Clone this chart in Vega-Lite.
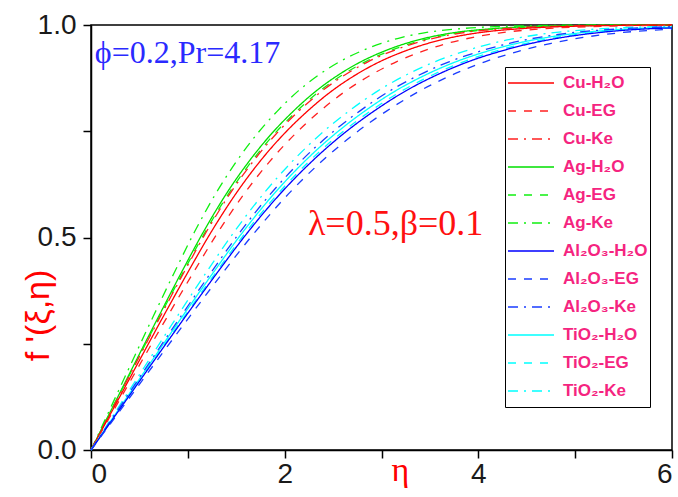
{
  "$schema": "https://vega.github.io/schema/vega-lite/v6.json",
  "width": 581,
  "height": 425,
  "autosize": "none",
  "padding": {"left": 91, "top": 25, "right": 6, "bottom": 47},
  "background": "white",
  "config": {
    "view": {"stroke": "black", "strokeWidth": 1.5},
    "axis": {"domainColor": "black", "domainWidth": 1.5, "tickColor": "black", "tickWidth": 1.5, "grid": false, "labelFont": "Liberation Sans", "labelFontSize": 28, "labelColor": "#1a1a1a"}
  },
  "layer": [
    {
      "data": {"values": [
        {"s":"Ag-Ke","x":0,"y":0},{"s":"Ag-Ke","x":0.214,"y":0.105},{"s":"Ag-Ke","x":0.428,"y":0.21},{"s":"Ag-Ke","x":0.642,"y":0.314},{"s":"Ag-Ke","x":0.857,"y":0.416},{"s":"Ag-Ke","x":1.071,"y":0.514},{"s":"Ag-Ke","x":1.285,"y":0.602},{"s":"Ag-Ke","x":1.499,"y":0.678},{"s":"Ag-Ke","x":1.713,"y":0.743},{"s":"Ag-Ke","x":1.927,"y":0.798},{"s":"Ag-Ke","x":2.141,"y":0.845},{"s":"Ag-Ke","x":2.355,"y":0.883},{"s":"Ag-Ke","x":2.57,"y":0.914},{"s":"Ag-Ke","x":2.784,"y":0.938},{"s":"Ag-Ke","x":2.998,"y":0.957},{"s":"Ag-Ke","x":3.212,"y":0.971},{"s":"Ag-Ke","x":3.426,"y":0.981},{"s":"Ag-Ke","x":3.854,"y":0.992},{"s":"Ag-Ke","x":4.283,"y":0.997},{"s":"Ag-Ke","x":4.711,"y":0.999},{"s":"Ag-Ke","x":5.353,"y":1.0},{"s":"Ag-Ke","x":6,"y":1.0},
        {"s":"Ag-H₂O","x":0,"y":0},{"s":"Ag-H₂O","x":0.233,"y":0.105},{"s":"Ag-H₂O","x":0.465,"y":0.21},{"s":"Ag-H₂O","x":0.698,"y":0.314},{"s":"Ag-H₂O","x":0.93,"y":0.416},{"s":"Ag-H₂O","x":1.163,"y":0.514},{"s":"Ag-H₂O","x":1.395,"y":0.602},{"s":"Ag-H₂O","x":1.628,"y":0.678},{"s":"Ag-H₂O","x":1.86,"y":0.743},{"s":"Ag-H₂O","x":2.093,"y":0.798},{"s":"Ag-H₂O","x":2.326,"y":0.845},{"s":"Ag-H₂O","x":2.558,"y":0.883},{"s":"Ag-H₂O","x":2.791,"y":0.914},{"s":"Ag-H₂O","x":3.023,"y":0.938},{"s":"Ag-H₂O","x":3.256,"y":0.957},{"s":"Ag-H₂O","x":3.488,"y":0.971},{"s":"Ag-H₂O","x":3.721,"y":0.981},{"s":"Ag-H₂O","x":4.186,"y":0.992},{"s":"Ag-H₂O","x":4.651,"y":0.997},{"s":"Ag-H₂O","x":5.116,"y":0.999},{"s":"Ag-H₂O","x":5.814,"y":1.0},{"s":"Ag-H₂O","x":6,"y":1.0},
        {"s":"Ag-EG","x":0,"y":0},{"s":"Ag-EG","x":0.236,"y":0.105},{"s":"Ag-EG","x":0.473,"y":0.21},{"s":"Ag-EG","x":0.709,"y":0.314},{"s":"Ag-EG","x":0.946,"y":0.416},{"s":"Ag-EG","x":1.182,"y":0.514},{"s":"Ag-EG","x":1.418,"y":0.602},{"s":"Ag-EG","x":1.655,"y":0.678},{"s":"Ag-EG","x":1.891,"y":0.743},{"s":"Ag-EG","x":2.128,"y":0.798},{"s":"Ag-EG","x":2.364,"y":0.845},{"s":"Ag-EG","x":2.6,"y":0.883},{"s":"Ag-EG","x":2.837,"y":0.914},{"s":"Ag-EG","x":3.073,"y":0.938},{"s":"Ag-EG","x":3.31,"y":0.957},{"s":"Ag-EG","x":3.546,"y":0.971},{"s":"Ag-EG","x":3.783,"y":0.981},{"s":"Ag-EG","x":4.255,"y":0.992},{"s":"Ag-EG","x":4.728,"y":0.997},{"s":"Ag-EG","x":5.201,"y":0.999},{"s":"Ag-EG","x":5.91,"y":1.0},{"s":"Ag-EG","x":6,"y":1.0},
        {"s":"Cu-Ke","x":0,"y":0},{"s":"Cu-Ke","x":0.239,"y":0.105},{"s":"Cu-Ke","x":0.477,"y":0.21},{"s":"Cu-Ke","x":0.716,"y":0.314},{"s":"Cu-Ke","x":0.955,"y":0.416},{"s":"Cu-Ke","x":1.193,"y":0.514},{"s":"Cu-Ke","x":1.432,"y":0.602},{"s":"Cu-Ke","x":1.671,"y":0.678},{"s":"Cu-Ke","x":1.909,"y":0.743},{"s":"Cu-Ke","x":2.148,"y":0.798},{"s":"Cu-Ke","x":2.387,"y":0.845},{"s":"Cu-Ke","x":2.625,"y":0.883},{"s":"Cu-Ke","x":2.864,"y":0.914},{"s":"Cu-Ke","x":3.103,"y":0.938},{"s":"Cu-Ke","x":3.341,"y":0.957},{"s":"Cu-Ke","x":3.58,"y":0.971},{"s":"Cu-Ke","x":3.819,"y":0.981},{"s":"Cu-Ke","x":4.296,"y":0.992},{"s":"Cu-Ke","x":4.773,"y":0.997},{"s":"Cu-Ke","x":5.251,"y":0.999},{"s":"Cu-Ke","x":6,"y":1.0},
        {"s":"Cu-H₂O","x":0,"y":0},{"s":"Cu-H₂O","x":0.249,"y":0.105},{"s":"Cu-H₂O","x":0.498,"y":0.21},{"s":"Cu-H₂O","x":0.746,"y":0.314},{"s":"Cu-H₂O","x":0.995,"y":0.416},{"s":"Cu-H₂O","x":1.244,"y":0.514},{"s":"Cu-H₂O","x":1.493,"y":0.602},{"s":"Cu-H₂O","x":1.741,"y":0.678},{"s":"Cu-H₂O","x":1.99,"y":0.743},{"s":"Cu-H₂O","x":2.239,"y":0.798},{"s":"Cu-H₂O","x":2.488,"y":0.845},{"s":"Cu-H₂O","x":2.736,"y":0.883},{"s":"Cu-H₂O","x":2.985,"y":0.914},{"s":"Cu-H₂O","x":3.234,"y":0.938},{"s":"Cu-H₂O","x":3.483,"y":0.957},{"s":"Cu-H₂O","x":3.731,"y":0.971},{"s":"Cu-H₂O","x":3.98,"y":0.981},{"s":"Cu-H₂O","x":4.478,"y":0.992},{"s":"Cu-H₂O","x":4.975,"y":0.997},{"s":"Cu-H₂O","x":5.473,"y":0.999},{"s":"Cu-H₂O","x":6,"y":1.0},
        {"s":"Cu-EG","x":0,"y":0},{"s":"Cu-EG","x":0.263,"y":0.105},{"s":"Cu-EG","x":0.526,"y":0.21},{"s":"Cu-EG","x":0.789,"y":0.314},{"s":"Cu-EG","x":1.053,"y":0.416},{"s":"Cu-EG","x":1.316,"y":0.514},{"s":"Cu-EG","x":1.579,"y":0.602},{"s":"Cu-EG","x":1.842,"y":0.678},{"s":"Cu-EG","x":2.105,"y":0.743},{"s":"Cu-EG","x":2.368,"y":0.798},{"s":"Cu-EG","x":2.632,"y":0.845},{"s":"Cu-EG","x":2.895,"y":0.883},{"s":"Cu-EG","x":3.158,"y":0.914},{"s":"Cu-EG","x":3.421,"y":0.938},{"s":"Cu-EG","x":3.684,"y":0.957},{"s":"Cu-EG","x":3.947,"y":0.971},{"s":"Cu-EG","x":4.211,"y":0.981},{"s":"Cu-EG","x":4.737,"y":0.992},{"s":"Cu-EG","x":5.263,"y":0.997},{"s":"Cu-EG","x":5.789,"y":0.999},{"s":"Cu-EG","x":6,"y":1.0},
        {"s":"TiO₂-Ke","x":0,"y":0},{"s":"TiO₂-Ke","x":0.296,"y":0.105},{"s":"TiO₂-Ke","x":0.593,"y":0.21},{"s":"TiO₂-Ke","x":0.889,"y":0.314},{"s":"TiO₂-Ke","x":1.185,"y":0.416},{"s":"TiO₂-Ke","x":1.481,"y":0.514},{"s":"TiO₂-Ke","x":1.778,"y":0.602},{"s":"TiO₂-Ke","x":2.074,"y":0.678},{"s":"TiO₂-Ke","x":2.37,"y":0.743},{"s":"TiO₂-Ke","x":2.667,"y":0.798},{"s":"TiO₂-Ke","x":2.963,"y":0.845},{"s":"TiO₂-Ke","x":3.259,"y":0.883},{"s":"TiO₂-Ke","x":3.556,"y":0.914},{"s":"TiO₂-Ke","x":3.852,"y":0.938},{"s":"TiO₂-Ke","x":4.148,"y":0.957},{"s":"TiO₂-Ke","x":4.444,"y":0.971},{"s":"TiO₂-Ke","x":4.741,"y":0.981},{"s":"TiO₂-Ke","x":5.333,"y":0.992},{"s":"TiO₂-Ke","x":6,"y":0.997},
        {"s":"TiO₂-H₂O","x":0,"y":0},{"s":"TiO₂-H₂O","x":0.314,"y":0.105},{"s":"TiO₂-H₂O","x":0.629,"y":0.21},{"s":"TiO₂-H₂O","x":0.943,"y":0.314},{"s":"TiO₂-H₂O","x":1.258,"y":0.416},{"s":"TiO₂-H₂O","x":1.572,"y":0.514},{"s":"TiO₂-H₂O","x":1.887,"y":0.602},{"s":"TiO₂-H₂O","x":2.201,"y":0.678},{"s":"TiO₂-H₂O","x":2.516,"y":0.743},{"s":"TiO₂-H₂O","x":2.83,"y":0.798},{"s":"TiO₂-H₂O","x":3.145,"y":0.845},{"s":"TiO₂-H₂O","x":3.459,"y":0.883},{"s":"TiO₂-H₂O","x":3.774,"y":0.914},{"s":"TiO₂-H₂O","x":4.088,"y":0.938},{"s":"TiO₂-H₂O","x":4.403,"y":0.957},{"s":"TiO₂-H₂O","x":4.717,"y":0.971},{"s":"TiO₂-H₂O","x":5.031,"y":0.981},{"s":"TiO₂-H₂O","x":5.66,"y":0.992},{"s":"TiO₂-H₂O","x":6,"y":0.995},
        {"s":"TiO₂-EG","x":0,"y":0},{"s":"TiO₂-EG","x":0.321,"y":0.105},{"s":"TiO₂-EG","x":0.642,"y":0.21},{"s":"TiO₂-EG","x":0.963,"y":0.314},{"s":"TiO₂-EG","x":1.284,"y":0.416},{"s":"TiO₂-EG","x":1.605,"y":0.514},{"s":"TiO₂-EG","x":1.926,"y":0.602},{"s":"TiO₂-EG","x":2.247,"y":0.678},{"s":"TiO₂-EG","x":2.568,"y":0.743},{"s":"TiO₂-EG","x":2.889,"y":0.798},{"s":"TiO₂-EG","x":3.21,"y":0.845},{"s":"TiO₂-EG","x":3.531,"y":0.883},{"s":"TiO₂-EG","x":3.852,"y":0.914},{"s":"TiO₂-EG","x":4.173,"y":0.938},{"s":"TiO₂-EG","x":4.494,"y":0.957},{"s":"TiO₂-EG","x":4.815,"y":0.971},{"s":"TiO₂-EG","x":5.136,"y":0.981},{"s":"TiO₂-EG","x":5.778,"y":0.992},{"s":"TiO₂-EG","x":6,"y":0.994},
        {"s":"Al₂O₃-Ke","x":0,"y":0},{"s":"Al₂O₃-Ke","x":0.309,"y":0.105},{"s":"Al₂O₃-Ke","x":0.617,"y":0.21},{"s":"Al₂O₃-Ke","x":0.926,"y":0.314},{"s":"Al₂O₃-Ke","x":1.235,"y":0.416},{"s":"Al₂O₃-Ke","x":1.543,"y":0.514},{"s":"Al₂O₃-Ke","x":1.852,"y":0.602},{"s":"Al₂O₃-Ke","x":2.16,"y":0.678},{"s":"Al₂O₃-Ke","x":2.469,"y":0.743},{"s":"Al₂O₃-Ke","x":2.778,"y":0.798},{"s":"Al₂O₃-Ke","x":3.086,"y":0.845},{"s":"Al₂O₃-Ke","x":3.395,"y":0.883},{"s":"Al₂O₃-Ke","x":3.704,"y":0.914},{"s":"Al₂O₃-Ke","x":4.012,"y":0.938},{"s":"Al₂O₃-Ke","x":4.321,"y":0.957},{"s":"Al₂O₃-Ke","x":4.63,"y":0.971},{"s":"Al₂O₃-Ke","x":4.938,"y":0.981},{"s":"Al₂O₃-Ke","x":5.556,"y":0.992},{"s":"Al₂O₃-Ke","x":6,"y":0.996},
        {"s":"Al₂O₃-H₂O","x":0,"y":0},{"s":"Al₂O₃-H₂O","x":0.325,"y":0.105},{"s":"Al₂O₃-H₂O","x":0.65,"y":0.21},{"s":"Al₂O₃-H₂O","x":0.975,"y":0.314},{"s":"Al₂O₃-H₂O","x":1.3,"y":0.416},{"s":"Al₂O₃-H₂O","x":1.625,"y":0.514},{"s":"Al₂O₃-H₂O","x":1.951,"y":0.602},{"s":"Al₂O₃-H₂O","x":2.276,"y":0.678},{"s":"Al₂O₃-H₂O","x":2.601,"y":0.743},{"s":"Al₂O₃-H₂O","x":2.926,"y":0.798},{"s":"Al₂O₃-H₂O","x":3.251,"y":0.845},{"s":"Al₂O₃-H₂O","x":3.576,"y":0.883},{"s":"Al₂O₃-H₂O","x":3.901,"y":0.914},{"s":"Al₂O₃-H₂O","x":4.226,"y":0.938},{"s":"Al₂O₃-H₂O","x":4.551,"y":0.957},{"s":"Al₂O₃-H₂O","x":4.876,"y":0.971},{"s":"Al₂O₃-H₂O","x":5.202,"y":0.981},{"s":"Al₂O₃-H₂O","x":5.852,"y":0.992},{"s":"Al₂O₃-H₂O","x":6,"y":0.993},
        {"s":"Al₂O₃-EG","x":0,"y":0},{"s":"Al₂O₃-EG","x":0.34,"y":0.105},{"s":"Al₂O₃-EG","x":0.679,"y":0.21},{"s":"Al₂O₃-EG","x":1.019,"y":0.314},{"s":"Al₂O₃-EG","x":1.358,"y":0.416},{"s":"Al₂O₃-EG","x":1.698,"y":0.514},{"s":"Al₂O₃-EG","x":2.037,"y":0.602},{"s":"Al₂O₃-EG","x":2.377,"y":0.678},{"s":"Al₂O₃-EG","x":2.716,"y":0.743},{"s":"Al₂O₃-EG","x":3.056,"y":0.798},{"s":"Al₂O₃-EG","x":3.396,"y":0.845},{"s":"Al₂O₃-EG","x":3.735,"y":0.883},{"s":"Al₂O₃-EG","x":4.075,"y":0.914},{"s":"Al₂O₃-EG","x":4.414,"y":0.938},{"s":"Al₂O₃-EG","x":4.754,"y":0.957},{"s":"Al₂O₃-EG","x":5.093,"y":0.971},{"s":"Al₂O₃-EG","x":5.433,"y":0.981},{"s":"Al₂O₃-EG","x":6,"y":0.99}
      ]},
      "mark": {"type": "line", "interpolate": "monotone", "strokeWidth": 1.3},
      "encoding": {
        "x": {"field": "x", "type": "quantitative", "scale": {"domain": [0, 6], "nice": false},
          "axis": {"values": [0,1,2,3,4,5,6], "labelExpr": "datum.value % 2 == 0 ? format(datum.value, 'd') : ''", "tickSize": 8, "labelPadding": 2,
            "title": "η", "titleFont": "Liberation Serif", "titleFontSize": 34, "titleFontWeight": "normal", "titleColor": "red", "titleX": 309, "titleY": 30, "titleBaseline": "alphabetic", "titleAlign": "center"}},
        "y": {"field": "y", "type": "quantitative", "scale": {"domain": [0, 1], "nice": false},
          "axis": {"values": [0,0.25,0.5,0.75,1], "labelExpr": "datum.value == 0.25 || datum.value == 0.75 ? '' : format(datum.value, '.1f')", "tickSize": 8, "labelPadding": 7,
            "title": "f '(ξ,η)", "titleFont": "Liberation Sans", "titleFontSize": 34, "titleFontWeight": "normal", "titleColor": "red", "titleX": -53, "titleY": 290, "titleAngle": -90, "titleBaseline": "middle", "titleAlign": "center"}},
        "color": {"field": "s", "type": "nominal",
          "scale": {"domain": ["Cu-H₂O","Cu-EG","Cu-Ke","Ag-H₂O","Ag-EG","Ag-Ke","Al₂O₃-H₂O","Al₂O₃-EG","Al₂O₃-Ke","TiO₂-H₂O","TiO₂-EG","TiO₂-Ke"],
            "range": ["#ff0000","#ff2020","#ff2020","#00e000","#10f010","#10f010","#0000ff","#1a3cff","#1a3cff","#00ffff","#00ffff","#00ffff"]},
          "legend": {"title": null, "orient": "none", "legendX": 414, "legendY": 42, "fillColor": "white", "strokeColor": "black", "padding": 2,
            "symbolType": "stroke", "symbolSize": 2116, "symbolStrokeWidth": 1.5, "clipHeight": 28, "rowPadding": 0, "labelOffset": 8,
            "labelFont": "Liberation Sans", "labelFontWeight": "bold", "labelFontSize": 17, "labelColor": "#f5247f", "labelLimit": 0}},
        "strokeDash": {"field": "s", "type": "nominal",
          "scale": {"domain": ["Cu-H₂O","Cu-EG","Cu-Ke","Ag-H₂O","Ag-EG","Ag-Ke","Al₂O₃-H₂O","Al₂O₃-EG","Al₂O₃-Ke","TiO₂-H₂O","TiO₂-EG","TiO₂-Ke"],
            "range": [[1,0],[8,8],[10,6,2,6],[1,0],[8,8],[10,6,2,6],[1,0],[8,8],[10,6,2,6],[1,0],[8,8],[10,6,2,6]]},
          "legend": {"title": null, "orient": "none", "legendX": 414, "legendY": 42, "fillColor": "white", "strokeColor": "black", "padding": 2,
            "symbolType": "stroke", "symbolSize": 2116, "symbolStrokeWidth": 1.5, "clipHeight": 28, "rowPadding": 0, "labelOffset": 8,
            "labelFont": "Liberation Sans", "labelFontWeight": "bold", "labelFontSize": 17, "labelColor": "#f5247f", "labelLimit": 0}}
      }
    },
    {
      "data": {"values": [{"x": 0.04, "y": 0.911, "t": "ϕ=0.2,Pr=4.17"}]},
      "mark": {"type": "text", "align": "left", "baseline": "alphabetic", "font": "Liberation Serif", "fontSize": 32, "color": "#2a2aff"},
      "encoding": {"x": {"field": "x", "type": "quantitative"}, "y": {"field": "y", "type": "quantitative"}, "text": {"field": "t"}}
    },
    {
      "data": {"values": [{"x": 2.24, "y": 0.506, "t": "λ=0.5,β=0.1"}]},
      "mark": {"type": "text", "align": "left", "baseline": "alphabetic", "font": "Liberation Serif", "fontSize": 36, "color": "#ff1010"},
      "encoding": {"x": {"field": "x", "type": "quantitative"}, "y": {"field": "y", "type": "quantitative"}, "text": {"field": "t"}}
    }
  ]
}
